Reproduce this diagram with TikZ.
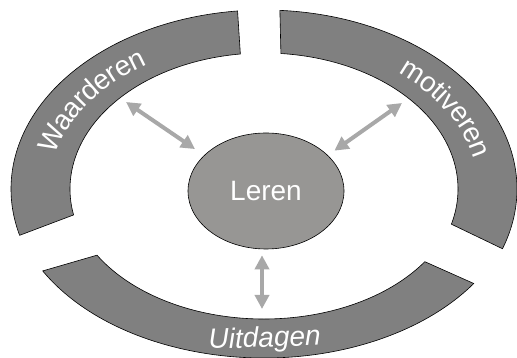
\documentclass[tikz,border=0pt]{standalone}
\usepackage{fontspec}
\setmainfont{Liberation Sans}
\usetikzlibrary{arrows.meta,calc,decorations.text,shapes.geometric}
\definecolor{bandgray}{RGB}{128,128,128}
\definecolor{coregray}{RGB}{151,150,148}
\definecolor{arrowgray}{RGB}{168,168,168}
\newcommand{\bigtxt}{\fontsize{28pt}{32pt}\selectfont}
\tikzset{
  band/.style={fill=bandgray,draw=black,line width=0.6pt},
  link/.style={draw=arrowgray,line width=4pt,{Triangle[length=14pt,width=14pt]}-{Triangle[length=14pt,width=14pt]}},
  curved/.style={decorate,decoration={text along path,text={|\bigtxt|#1},text align=center,text color=white,raise=-9pt}}
}
\begin{document}
\begin{tikzpicture}[x=1pt,y=1pt]
\useasboundingbox (0,0) rectangle (517,358);
\coordinate (c) at (264,169);
\foreach \a/\b/\p/\q/\ro/\ri in {96/195/191/97/179/136,86.4/-19.5/-15/85/179/136,209/326/326/210.6/169/130}
  \draw[band] ($(c)+(\a:253 and \ro)$) arc[start angle=\a,end angle=\b,x radius=253,y radius=\ro]
    -- ($(c)+(\p:194 and \ri)$) arc[start angle=\p,end angle=\q,x radius=194,y radius=\ri] -- cycle;

\path[curved=Waarderen] ($(c)+(179:223.5 and 157.5)$) arc[start angle=179,end angle=113,x radius=223.5,y radius=157.5];
\path[curved=motiveren] ($(c)+(58:223.5 and 157.5)$) arc[start angle=58,end angle=4,x radius=223.5,y radius=157.5];

\node[ellipse,fill=coregray,draw=black,line width=0.6pt,minimum width=156pt,minimum height=116pt,inner sep=0pt,text=white,font=\bigtxt] (leren) at (266,167) {Leren};
\node[text=white,font=\bigtxt\itshape,anchor=base,rotate=2] (uitdagen) at (265,11) {Uitdagen};

\coordinate (w1) at (126,256);
\coordinate (m1) at (402,255);
\coordinate (u1) at (262,49);
\draw[link,shorten >=11pt] (w1) -- (leren.150);
\draw[link,shorten >=8pt] (m1) -- (leren.30);
\draw[link,shorten >=6pt] (u1) -- (u1 |- leren.south);
\end{tikzpicture}
\end{document}
